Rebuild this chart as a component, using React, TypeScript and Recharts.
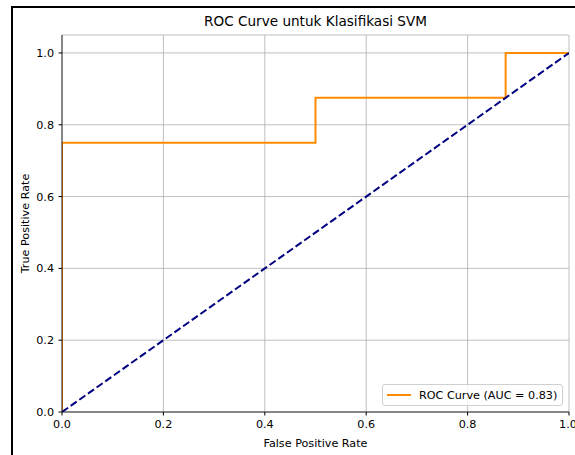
import React from "react";
import {
  LineChart,
  Line,
  XAxis,
  YAxis,
  CartesianGrid,
  Legend,
} from "recharts";

// ROC points (false positive rate, true positive rate)
const fpr = [0, 0, 0.5, 0.5, 0.875, 0.875, 1];
const tpr = [0, 0.75, 0.75, 0.875, 0.875, 1, 1];
const chanceX = [0, 1];
const ticks = [0, 0.2, 0.4, 0.6, 0.8, 1.0];
const aucLabel = "ROC Curve (AUC = 0.83)";

const rocData = fpr.map((x, i) => ({ x, y: tpr[i] }));
const chanceData = chanceX.map((x) => ({ x, y: x }));

const FONT = "'DejaVu Sans', sans-serif";
const FS = 11.2;

const renderLegend = () => (
  <div
    style={{
      width: 179,
      height: 20,
      border: "1px solid #d0d0d0",
      borderRadius: 3,
      background: "rgba(255,255,255,0.8)",
      display: "flex",
      alignItems: "center",
      fontFamily: FONT,
      fontSize: FS,
      color: "#000",
      boxSizing: "content-box",
      whiteSpace: "nowrap",
    }}
  >
    <div
      style={{
        width: 24,
        height: 2,
        background: "#ff8c00",
        marginLeft: 4,
        marginRight: 8,
      }}
    />
    <span>{aucLabel}</span>
  </div>
);

export default function App() {
  return (
    <div
      style={{
        position: "absolute",
        left: 0,
        top: 0,
        width: 575,
        height: 455,
        background: "#fff",
        overflow: "hidden",
      }}
    >
      {/* figure frame */}
      <div
        style={{
          position: "absolute",
          left: 11,
          top: 6,
          width: 600,
          height: 460,
          border: "2px solid #000",
        }}
      />
      <div
        style={{
          position: "absolute",
          left: 62,
          width: 507,
          top: 13,
          textAlign: "center",
          fontFamily: FONT,
          fontSize: 13.6,
          color: "#000",
        }}
      >
        ROC Curve untuk Klasifikasi SVM
      </div>
      <div style={{ position: "absolute", left: 0, top: 0 }}>
        <LineChart
          width={575}
          height={455}
          margin={{ top: 35, right: 6, bottom: 0, left: 0 }}
        >
          <CartesianGrid stroke="#b0b0b0" strokeWidth={0.8} />
          <XAxis
            type="number"
            dataKey="x"
            domain={[0, 1]}
            ticks={ticks}
            tickFormatter={(v) => v.toFixed(1)}
            height={43}
            tickSize={3.5}
            tickMargin={4.5}
            tickLine={{ stroke: "#000" }}
            axisLine={{ stroke: "#000", strokeWidth: 0.8 }}
            tick={{ fill: "#000", fontSize: FS, fontFamily: FONT }}
            allowDataOverflow
            label={{
              value: "False Positive Rate",
              position: "insideBottom",
              offset: 8,
              style: { fill: "#000", fontSize: FS, fontFamily: FONT },
            }}
          />
          <XAxis
            xAxisId="top"
            orientation="top"
            type="number"
            domain={[0, 1]}
            height={0}
            tick={false}
            tickLine={false}
            axisLine={{ stroke: "#000", strokeWidth: 0.8 }}
          />
          <YAxis
            type="number"
            domain={[0, 1.05]}
            ticks={ticks}
            tickFormatter={(v) => v.toFixed(1)}
            width={62}
            tickSize={3.5}
            tickMargin={4.5}
            tickLine={{ stroke: "#000" }}
            axisLine={{ stroke: "#000", strokeWidth: 0.8 }}
            tick={{ fill: "#000", fontSize: FS, fontFamily: FONT }}
            allowDataOverflow
            label={{
              value: "True Positive Rate",
              angle: -90,
              position: "insideLeft",
              offset: 25,
              style: {
                fill: "#000",
                fontSize: FS,
                fontFamily: FONT,
                textAnchor: "middle",
              },
            }}
          />
          <YAxis
            yAxisId="right"
            orientation="right"
            type="number"
            domain={[0, 1.05]}
            width={0}
            tick={false}
            tickLine={false}
            axisLine={{ stroke: "#000", strokeWidth: 0.8 }}
          />
          <Line
            data={rocData}
            dataKey="y"
            type="linear"
            stroke="#ff8c00"
            strokeWidth={2}
            dot={false}
            isAnimationActive={false}
          />
          <Line
            data={chanceData}
            dataKey="y"
            type="linear"
            stroke="#000080"
            strokeWidth={2}
            strokeDasharray="7.4 3.2"
            dot={false}
            isAnimationActive={false}
          />
          <Legend
            layout="horizontal"
            verticalAlign="middle"
            align="center"
            content={renderLegend}
            wrapperStyle={{ left: 382, top: 384, width: 181, height: 22 }}
          />
        </LineChart>
      </div>
    </div>
  );
}
